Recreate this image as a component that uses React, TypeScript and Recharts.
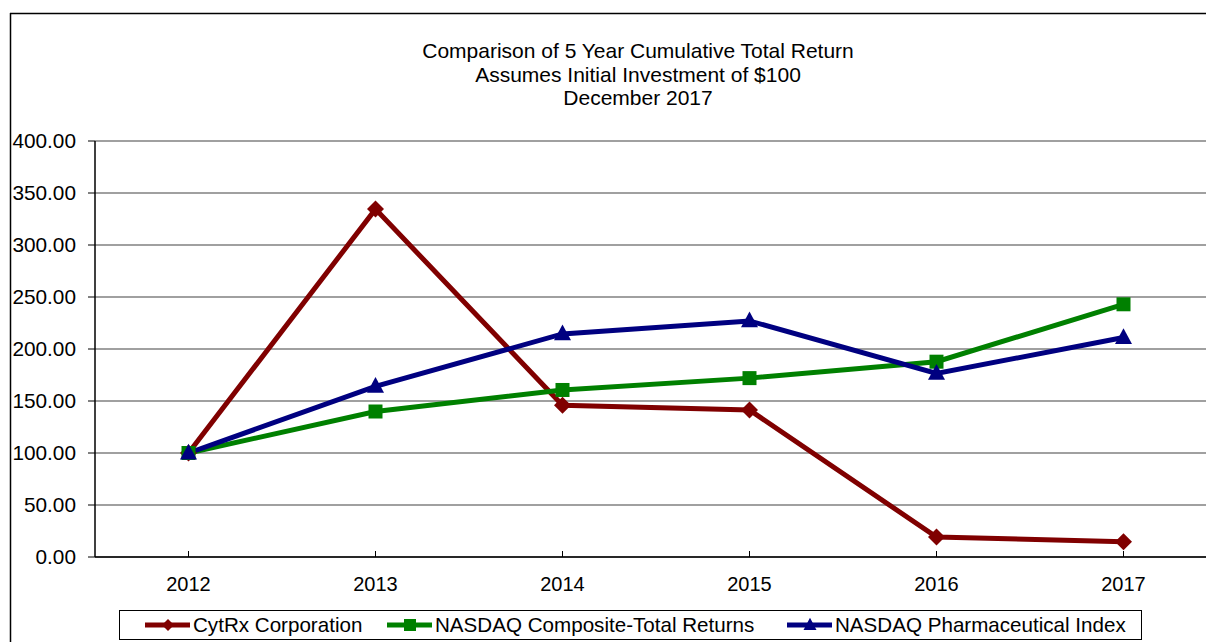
import React from 'react';
import { LineChart, Line, XAxis, YAxis, CartesianGrid, Legend, Customized } from 'recharts';

const years = ['2012', '2013', '2014', '2015', '2016', '2017'];
const cytrx = [100, 334.5, 146, 141.3, 19.2, 14.7];
const nasdaqComposite = [100, 139.9, 160.6, 172, 187.8, 243];
const nasdaqPharma = [100, 164, 214.5, 227, 176.5, 211];
const yTicks = [0, 50, 100, 150, 200, 250, 300, 350, 400];
const titleLines = [
  'Comparison of 5 Year Cumulative Total Return',
  'Assumes Initial Investment of $100',
  'December 2017',
];
const seriesNames = {
  cytrx: 'CytRx Corporation',
  composite: 'NASDAQ Composite-Total Returns',
  pharma: 'NASDAQ Pharmaceutical Index',
};

const data = years.map((year, i) => ({
  year,
  cytrx: cytrx[i],
  composite: nasdaqComposite[i],
  pharma: nasdaqPharma[i],
}));

const FONT = '"Liberation Sans", Arial, sans-serif';
const RED = '#800000';
const GREEN = '#008000';
const BLUE = '#000080';

type Shape = 'diamond' | 'square' | 'triangle';

function Marker({ cx, cy, shape, color, s }: { cx: number; cy: number; shape: Shape; color: string; s: number }) {
  if (shape === 'diamond') {
    return <polygon points={`${cx},${cy - s} ${cx + s},${cy} ${cx},${cy + s} ${cx - s},${cy}`} fill={color} />;
  }
  if (shape === 'square') {
    return <rect x={cx - s} y={cy - s} width={2 * s} height={2 * s} fill={color} />;
  }
  return <polygon points={`${cx},${cy - s * 1.1} ${cx + s},${cy + s * 0.75} ${cx - s},${cy + s * 0.75}`} fill={color} />;
}

const makeDot = (shape: Shape, color: string, s: number) => (props: any) => {
  const { cx, cy, index } = props;
  if (cx == null || cy == null) return <g key={`d-${shape}-${index}`} />;
  return (
    <g key={`d-${shape}-${index}`}>
      <Marker cx={cx} cy={cy} shape={shape} color={color} s={s} />
    </g>
  );
};

const shapeFor: Record<string, Shape> = { cytrx: 'diamond', composite: 'square', pharma: 'triangle' };
const legendOffsets: Record<string, number> = { cytrx: 25, composite: 267, pharma: 667 };

const LegendContent = (props: any) => {
  const payload = props.payload || [];
  return (
    <div
      style={{
        position: 'relative',
        width: 1023,
        height: 30,
        boxSizing: 'border-box',
        border: '1px solid #000',
        background: '#fff',
        fontFamily: FONT,
        fontSize: 20.6,
        color: '#000',
      }}
    >
      {payload.map((entry: any) => {
        const key = entry.dataKey as string;
        return (
          <div
            key={key}
            style={{
              position: 'absolute',
              left: legendOffsets[key],
              top: 0,
              height: 28,
              display: 'flex',
              alignItems: 'center',
              whiteSpace: 'nowrap',
            }}
          >
            <svg width={46} height={16} style={{ marginRight: 2 }}>
              <line x1={0} x2={45} y1={8} y2={8} stroke={entry.color} strokeWidth={5} />
              <Marker cx={23} cy={8} shape={shapeFor[key]} color={entry.color} s={key === 'pharma' ? 6.5 : 6} />
            </svg>
            <span style={{ lineHeight: '28px' }}>{entry.value}</span>
          </div>
        );
      })}
    </div>
  );
};

const XTick = (props: any) => {
  const { x, y, payload } = props;
  return (
    <g>
      <line x1={x} x2={x} y1={y} y2={y - 6} stroke="#000" strokeWidth={1} />
      <text x={x} y={y + 34} textAnchor="middle" fontFamily={FONT} fontSize={20} fill="#000">
        {payload.value}
      </text>
    </g>
  );
};

const Decorations = () => (
  <g>
    <line x1={10} x2={1300} y1={13.5} y2={13.5} stroke="#000" strokeWidth={1.5} />
    <line x1={10.5} x2={10.5} y1={13} y2={700} stroke="#000" strokeWidth={1.5} />
    {titleLines.map((t, i) => (
      <text
        key={i}
        x={638}
        y={58 + i * 23.5}
        textAnchor="middle"
        fontFamily={FONT}
        fontSize={21}
        fill="#000"
      >
        {t}
      </text>
    ))}
  </g>
);

export default function App() {
  return (
    <div
      style={{
        position: 'absolute',
        left: 0,
        top: 0,
        width: 1206,
        height: 642,
        overflow: 'hidden',
        background: '#fff',
      }}
    >
      <LineChart
        width={1227}
        height={642}
        data={data}
        margin={{ top: 141, right: 10, left: 0, bottom: 45 }}
        style={{ fontFamily: FONT }}
      >
        <Customized component={Decorations} />
        <CartesianGrid vertical={false} stroke="#808080" strokeWidth={1.5} />
        <XAxis
          dataKey="year"
          height={40}
          interval={0}
          tickLine={false}
          tickSize={0}
          tickMargin={0}
          tick={<XTick />}
          axisLine={{ stroke: '#000', strokeWidth: 1.5 }}
          padding={{ left: 93.5, right: 93.5 }}
        />
        <YAxis
          width={95}
          domain={[0, 400]}
          ticks={yTicks}
          interval={0}
          tickFormatter={(v: number) => v.toFixed(2)}
          tickSize={7}
          tickMargin={12}
          tickLine={{ stroke: '#000' }}
          axisLine={{ stroke: '#000', strokeWidth: 1.5 }}
          tick={{ fill: '#000', fontSize: 20.8, fontFamily: FONT }}
        />
        <Legend
          layout="horizontal"
          verticalAlign="middle"
          align="center"
          wrapperStyle={{ position: 'absolute', left: 119, top: 610, width: 1023, height: 30 }}
          content={<LegendContent />}
        />
        <Line
          type="linear"
          dataKey="cytrx"
          name={seriesNames.cytrx}
          stroke={RED}
          strokeWidth={5}
          dot={makeDot('diamond', RED, 8.5)}
          activeDot={false}
          isAnimationActive={false}
        />
        <Line
          type="linear"
          dataKey="composite"
          name={seriesNames.composite}
          stroke={GREEN}
          strokeWidth={5}
          dot={makeDot('square', GREEN, 7)}
          activeDot={false}
          isAnimationActive={false}
        />
        <Line
          type="linear"
          dataKey="pharma"
          name={seriesNames.pharma}
          stroke={BLUE}
          strokeWidth={5}
          dot={makeDot('triangle', BLUE, 8.5)}
          activeDot={false}
          isAnimationActive={false}
        />
      </LineChart>
    </div>
  );
}
